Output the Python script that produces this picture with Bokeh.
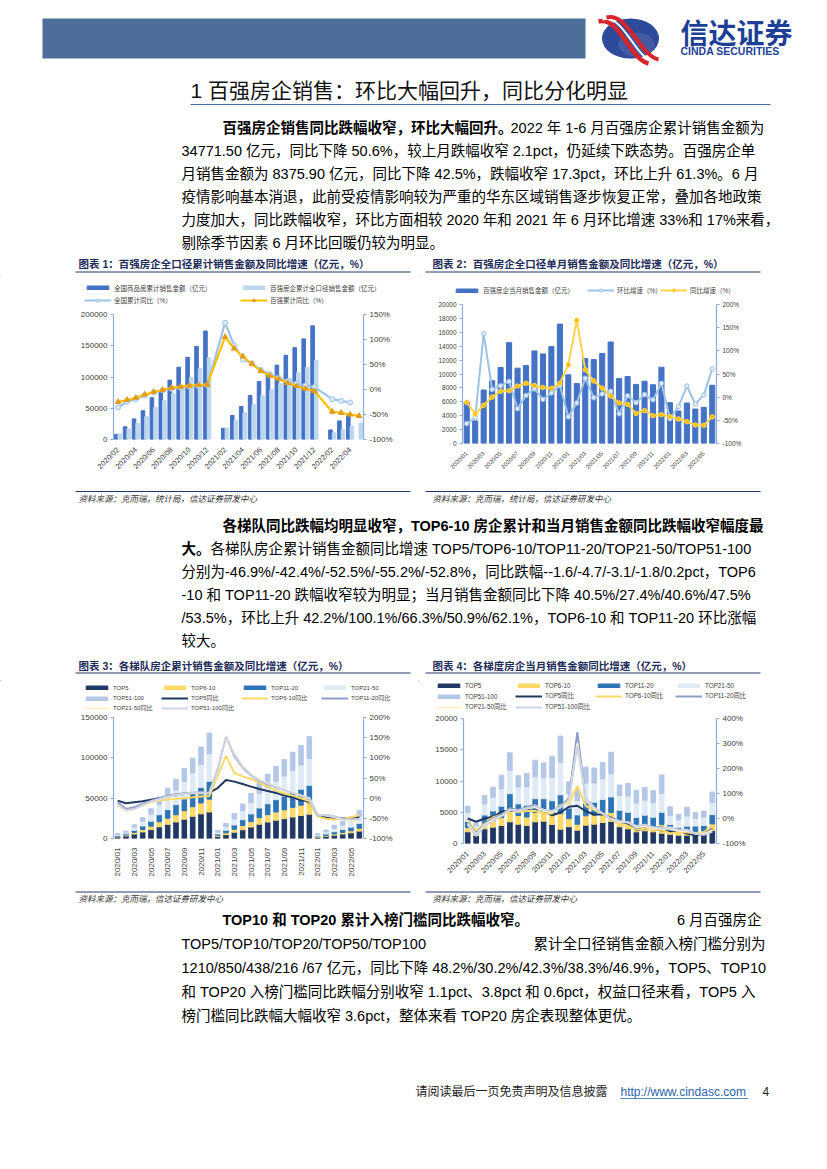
import numpy as np
from bokeh.plotting import figure
from bokeh.models import (ColumnDataSource, Range1d, LinearAxis, FixedTicker,
                          NumeralTickFormatter, PrintfTickFormatter, Legend, LegendItem)
from bokeh.layouts import column, row
from bokeh.transform import dodge
from bokeh.core.properties import value
from bokeh.embed import file_html
from bokeh.resources import INLINE

MIX = "'Liberation Sans', 'Noto Sans CJK SC', sans-serif"

# ---------------- data ----------------
ALL_MONTHS = [f"{y}/{m:02d}" for y in (2020, 2021, 2022) for m in range(1, 13)]
cats1 = ALL_MONTHS[1:29]          # 2020/02 .. 2022/05
cats2 = ALL_MONTHS[0:30]          # 2020/01 .. 2022/06

# chart 1 : cumulative sales (100m yuan) and YoY (%)
c1_national = [8203, 20365, 33000, 46000, 66895, 78000, 95000, 115647, 131500, 149000, 173613,
               None, 17971, 38377, 52951, 70534, 92931, 105000, 119000, 134800, 147000, 161000, 181930,
               None, 15303, 29655, 37934, None]
c1_top100 = [9200, 16900, 25900, 36900, 51400, 62200, 73400, 86800, 99600, 113600, 130800,
             None, 18500, 30700, 42800, 55800, 70400, 79700, 89400, 97900, 106800, 115300, 126300,
             None, 10600, 16400, 21300, 26400]
c1_national_yoy = [-35.9, -24.7, -19.3, -11.6, -5.4, -1.6, 1.6, 3.7, 5.8, 7.2, 8.7,
                   None, 133.4, 88.5, 60.0, 52.4, 38.9, 30.7, 23.5, 16.6, 11.8, 8.0, 4.8,
                   None, -19.3, -22.7, -26.0, None]
c1_top100_yoy = [-25, -21, -16.5, -10, -5, -1, 3.5, 5.6, 7.6, 9, 9.6,
                 None, 105, 82, 66, 51, 37, 27.7, 21, 13, 7, 1.6, -3,
                 None, -44.5, -46.5, -50, -52.7]

# chart 2 : monthly sales of top-100 (100m yuan), MoM and YoY (%)
c2_sales = [5970, 3250, 7690, 9020, 10930, 14510, 10840, 11220, 13320, 12890, 13940, 17180,
            9880, 8640, 12220, 12080, 12940, 14600, 9360, 9640, 8500, 8970, 8450, 10980,
            5870, 4680, 5820, 4960, 5200, 8376]
c2_mom = [-57, -44, 137, 16.7, 24.6, 34, -25, 3.8, 18, -4.8, 8.8, 25.3,
          -42.5, -12.6, 41, -1.2, 7.1, 12.8, -35.9, 3, -11.8, 5.5, -5.8, 30,
          -46.5, -20.3, 24, -14.8, 4.8, 61.3]
c2_yoy = [-11, -36, -17.6, 0.2, 13, 13.8, 24, 30, 25, 21, 19, 30,
          70, 166, 59, 35, 19.6, 2.4, -12.6, -15.5, -35, -29, -40, -37.7,
          -42, -47, -52.7, -60, -60.6, -42.5]

tiers = ["TOP5", "TOP6-10", "TOP11-20", "TOP21-50", "TOP51-100"]

# chart 3 : cumulative sales by tier
c3_top5 = [1870, 3170, 5520, 8130, 11010, 14480, 17570, 20450, 23920, 27490, 30530, 32820,
           2670, 4800, 7730, 10820, 14180, 17700, 20370, 22720, 24590, 26620, 28490, 30140,
           1490, 2820, 4150, 5590, 7060, 9150]
c3_top6_10 = [700, 1120, 2020, 3070, 4320, 6170, 7570, 8920, 10420, 11920, 13470, 15970,
              1300, 2250, 3750, 5200, 6700, 8130, 9180, 10180, 11030, 11980, 12830, 14230,
              550, 1000, 1450, 1950, 2470, 3510]
c3_top11_20 = [950, 1450, 2750, 4300, 6150, 8800, 10650, 12550, 14750, 16850, 19100, 22100,
               1700, 3200, 5250, 7300, 9500, 12000, 13600, 15250, 16700, 18250, 19750, 21700,
               1000, 1800, 2800, 3650, 4550, 6040]
c3_top21_50 = [1450, 2050, 3850, 6050, 8800, 12550, 15250, 18200, 21700, 25050, 28750, 33950,
               2350, 4650, 7850, 10950, 14250, 17950, 20300, 22900, 25200, 27600, 29900, 32900,
               1450, 2650, 4250, 5500, 6800, 8760]
c3_top51_100 = [1000, 1430, 2770, 4380, 6580, 9370, 11170, 13310, 15960, 18330, 21730, 25920,
                1860, 3620, 6160, 8550, 11130, 14580, 16270, 18310, 20340, 22380, 24310, 27290,
                1380, 2280, 3720, 4640, 5650, 7290]
c3_top5_yoy = [-6, -12.6, -10, -7.7, -3.6, -0.3, 3.8, 7, 10.4, 12, 13, 13.7,
               25, 45, 41, 35, 28.6, 22.8, 17.9, 13, 6.3, 2.2, -5.2, -7.7,
               -43, -47, -49, -50.5, -48.5, -46.9]
c3_top6_10_yoy = [-20, -28, -25, -18, -10, -5, -3.6, -2, 0.5, 2, 4, 5.5,
                  55, 105, 62, 54, 47.5, 39, 28, 18.7, 12, 6.3, -0.3, -7,
                  -45, -51.4, -53, -51.4, -47.1, -42.4]
c3_top11_20_yoy = [-10, -26.6, -22.5, -14, -7, -0.3, 6.3, 9.6, 12, 13.7, 14.6, 13,
                   72, 153, 105, 76, 57, 43, 35, 27, 20, 13, 6.3, -0.3,
                   -43, -41.5, -45.6, -51.4, -55.6, -52.5]
c3_top21_50_yoy = [-18, -32, -28, -18, -9, -3, 3, 7, 10, 12, 13, 12,
                   68, 155, 110, 80, 60, 46, 37, 28, 21, 14, 7, 0,
                   -40, -43, -47, -53, -57, -55.2]
c3_top51_100_yoy = [-15, -30, -27, -17, -8, -2, 4, 8, 11, 13, 14, 13,
                    70, 152, 108, 78, 58, 44, 36, 28, 20, 13, 6, -1,
                    -41, -42, -46, -52, -52.6, -52.8]

# chart 4 : monthly sales by tier
c4_top5 = [1870, 1300, 2350, 2610, 2880, 3470, 3090, 2880, 3470, 3570, 3040, 2290,
           2670, 2130, 2930, 3090, 3360, 3520, 2670, 2350, 1870, 2030, 1870, 1650,
           1490, 1330, 1330, 1440, 1470, 2090]
c4_top6_10 = [700, 420, 900, 1050, 1250, 1850, 1400, 1350, 1500, 1500, 1550, 2500,
              1300, 950, 1500, 1450, 1500, 1430, 1050, 1000, 850, 950, 850, 1400,
              550, 450, 450, 500, 520, 1040]
c4_top11_20 = [950, 500, 1300, 1550, 1850, 2650, 1850, 1900, 2200, 2100, 2250, 3000,
               1700, 1500, 2050, 2050, 2200, 2500, 1600, 1650, 1450, 1550, 1500, 1950,
               1000, 800, 1000, 850, 900, 1490]
c4_top21_50 = [1450, 600, 1800, 2200, 2750, 3750, 2700, 2950, 3500, 3350, 3700, 5200,
               2350, 2300, 3200, 3100, 3300, 3700, 2350, 2600, 2300, 2400, 2300, 3000,
               1450, 1200, 1600, 1250, 1300, 1960]
c4_top51_100 = [1000, 430, 1340, 1610, 2200, 2790, 1800, 2140, 2650, 2370, 3400, 4190,
                1860, 1760, 2540, 2390, 2580, 3450, 1690, 2040, 2030, 2040, 1930, 2980,
                1380, 900, 1440, 920, 1010, 1640]
c4_top5_yoy = [0, -13, 0, 7, 27, 33, 29, 37, 43, 31, 13, 24,
               47, 51, 29, 16, 16, 3, -13, -20, -47, -40, -43, -47,
               -53, -50, -60, -67, -60, -40.5]
c4_top6_10_yoy = [-10, -50, -20, 5, 15, 40, 25, 30, 30, 20, 20, 55,
                  60, 130, 50, 35, 20, -5, -25, -30, -45, -40, -45, -45,
                  -60, -55, -55, -60, -55, -27.4]
c4_top11_20_yoy = [-15, -60, -20, 0, 15, 40, 35, 45, 55, 30, 30, 50,
                   80, 345, 70, 40, 20, -5, -15, -15, -40, -30, -35, -35,
                   -45, -50, -50, -60, -65, -40.6]
c4_top21_50_yoy = [-20, -65, -25, -5, 10, 35, 30, 40, 45, 30, 25, 45,
                   70, 300, 75, 40, 20, -3, -15, -15, -35, -30, -40, -40,
                   -40, -50, -50, -60, -62, -47.5]
c4_top51_100_yoy = [-25, -70, -30, -10, 10, 35, 30, 40, 50, 35, 30, 45,
                    75, 290, 80, 45, 20, 0, -10, -15, -30, -25, -35, -40,
                    -35, -45, -45, -60, -65, -53.5]

BAR_COLORS = ["#203864", "#FFD966", "#2E75B6", "#DEEBF7", "#B4C7E7"]
LINE_COLORS = ["#203864", "#FFD966", "#8C9CC8", "#FFF2CC", "#CCD3E3"]
C1_BARS = ["#4472C4", "#BDD7EE"]
NAT_LINE, NAT_MARK = "#9DC3E6", "#DEEBF7"
T100_LINE, T100_MARK = "#FFC000", "#E39B1B"
C2_BAR = "#4472C4"
MOM_LINE, YOY_LINE, YOY_MARK = "#9DC3E6", "#FFD34E", "#FFC000"
AXIS_C = "#8FAADC"
LABEL_C = "#404040"


# ---------------- helpers ----------------
def make_chart(width, height, cats, ymax, yticks, pct_lo, pct_hi, pct_ticks, borders,
               xfs, yfs, orient):
    l, r, t, b = borders
    n = len(cats)
    p = figure(width=width, height=height, x_range=Range1d(-0.5, n - 0.5),
               y_range=Range1d(0, ymax), output_backend="svg", toolbar_location=None,
               min_border_left=l, min_border_right=r, min_border_top=t, min_border_bottom=b)
    p.outline_line_color = None
    p.grid.grid_line_color = None
    p.background_fill_color = "white"
    p.border_fill_color = "white"
    p.extra_y_ranges = {"pct": Range1d(pct_lo, pct_hi)}
    ra = LinearAxis(y_range_name="pct")
    p.add_layout(ra, "right")
    la = p.left[0]
    la.ticker = FixedTicker(ticks=yticks)
    la.formatter = NumeralTickFormatter(format="0")
    ra.ticker = FixedTicker(ticks=pct_ticks)
    ra.formatter = PrintfTickFormatter(format="%d%%")
    for ax in (la, ra):
        ax.axis_line_color = AXIS_C
        ax.axis_line_width = 1.2
        ax.major_tick_line_color = AXIS_C
        ax.major_tick_out = 3
        ax.major_tick_in = 0
        ax.minor_tick_line_color = None
        ax.major_label_text_font_size = yfs
        ax.major_label_text_color = LABEL_C
        ax.major_label_text_font = MIX
        ax.major_label_standoff = 3
    xa = p.below[0]
    xa.axis_line_color = None
    xa.major_tick_line_color = None
    xa.minor_tick_line_color = None
    xa.ticker = FixedTicker(ticks=list(range(0, n, 2)))
    xa.major_label_overrides = {i: cats[i] for i in range(0, n, 2)}
    xa.major_label_orientation = orient
    xa.major_label_text_font_size = xfs
    xa.major_label_text_color = LABEL_C
    xa.major_label_text_font = MIX
    xa.major_label_standoff = 3
    return p


def blank_fig(W, H):
    p = figure(width=W, height=H, x_range=Range1d(0, W), y_range=Range1d(H, 0),
               output_backend="svg", toolbar_location=None, x_axis_location=None,
               y_axis_location=None, min_border=0)
    p.outline_line_color = None
    p.grid.grid_line_color = None
    return p


def legend_fig(W, H, left, top, items, fs):
    """Legend strip above a chart. items: (label, kind, colors, gx, gy) in page px.
    The key glyphs use off-canvas sample renderers styled like the chart's series."""
    lf = blank_fig(W, H)
    off = -1000
    for label, kind, cols, gx, gy in items:
        if kind == "bar":
            rr = [lf.vbar(x=[off], top=[off + 1], bottom=[off], width=0.5,
                          fill_color=cols[0], line_color=cols[0])]
            gh = 5
        else:
            rr = [lf.line(x=[off, off + 1], y=[off, off], line_color=cols[0], line_width=2)]
            if kind == "circle":
                rr.append(lf.scatter(x=[off], y=[off], marker="circle", size=5,
                                     fill_color=cols[1], line_color=cols[0]))
            elif kind == "tri":
                rr.append(lf.scatter(x=[off], y=[off], marker="triangle", size=6,
                                     fill_color=cols[1], line_color=cols[1]))
            gh = 8
        h = 8
        leg = Legend(items=[LegendItem(label=label, renderers=rr)],
                     location=(gx - left, H - (gy - top) - h / 2),
                     orientation="horizontal", glyph_width=27, glyph_height=gh,
                     label_height=h, label_width=10, padding=0, margin=0, spacing=0,
                     label_standoff=3, border_line_color=None, background_fill_alpha=0,
                     label_text_font_size=fs, label_text_font=MIX,
                     label_text_color=LABEL_C)
        lf.add_layout(leg)
    return lf


def solo(f):
    # isolate a figure in its own box so sibling plots do not align their borders
    return column(f)


def pts(vals):
    xs = [i for i, v in enumerate(vals) if v is not None]
    ys = [v for v in vals if v is not None]
    return xs, ys


def txt(p, x, y, s, size="14.5px", color="#000000", style="normal", align="left", font=MIX):
    p.text(x=[x], y=[y], text=[s], text_font=value(font), text_font_size=size,
           text_color=color, text_font_style=style, text_align=align, text_baseline="middle")


def hline(p, x0, x1, y, color="#1F3864", w=1.0):
    p.segment(x0=[x0], y0=[y], x1=[x1], y1=[y], line_color=color, line_width=w)


BODY = "14.5px"
TITLE_C = "#1F2D5A"

# ---------------- chart 1 ----------------
p1 = make_chart(418, 182, cats1, 200000, [0, 50000, 100000, 150000, 200000],
                -100, 150, [-100, -50, 0, 50, 100, 150], (113, 55, 8, 49),
                "7.5px", "8px", np.pi / 4)
src1 = ColumnDataSource(dict(idx=list(range(len(cats1))),
                             nat=np.array(c1_national, dtype=float),
                             top=np.array(c1_top100, dtype=float)))
p1.vbar(x=dodge("idx", -0.2), top="nat", width=0.4, color=C1_BARS[0], source=src1)
p1.vbar(x=dodge("idx", 0.2), top="top", width=0.4, color=C1_BARS[1], source=src1)
x, y = pts(c1_national_yoy)
p1.line(x, y, y_range_name="pct", line_color=NAT_LINE, line_width=2.2)
p1.scatter(x, y, y_range_name="pct", marker="circle", size=5,
           fill_color=NAT_MARK, line_color=NAT_LINE, line_width=1)
x, y = pts(c1_top100_yoy)
p1.line(x, y, y_range_name="pct", line_color=T100_LINE, line_width=2.2)
p1.scatter(x, y, y_range_name="pct", marker="triangle", size=5.5,
           fill_color=T100_MARK, line_color=T100_MARK)
L1 = legend_fig(418, 31, 0, 275, [
    ("全国商品房累计销售金额（亿元）", "bar", [C1_BARS[0]], 84, 288.5),
    ("百强房企累计全口径销售金额（亿元）", "bar", [C1_BARS[1]], 240, 288.5),
    ("全国累计同比（%）", "circle", [NAT_LINE, NAT_MARK], 84, 300.5),
    ("百强累计同比（%）", "tri", [T100_LINE, T100_MARK], 240, 300.5),
], "6.5px")

# ---------------- chart 2 ----------------
p2 = make_chart(409, 190, cats2, 20000, list(range(0, 20001, 2000)),
                -100, 200, [-100, -50, 0, 50, 100, 150, 200], (44, 111, 6, 45),
                "6px", "6.5px", np.pi / 4)
idx2 = list(range(len(cats2)))
p2.vbar(x=idx2, top=c2_sales, width=0.6, color=C2_BAR)
p2.line(idx2, c2_mom, y_range_name="pct", line_color=MOM_LINE, line_width=2)
p2.scatter(idx2, c2_mom, y_range_name="pct", marker="circle", size=4.5,
           fill_color=NAT_MARK, line_color=MOM_LINE)
p2.line(idx2, c2_yoy, y_range_name="pct", line_color=YOY_LINE, line_width=2)
p2.scatter(idx2, c2_yoy, y_range_name="pct", marker="circle", size=4.5,
           fill_color=YOY_MARK, line_color=YOY_LINE)
L2 = legend_fig(409, 23, 418, 275, [
    ("百强房企当月销售金额（亿元）", "bar", [C2_BAR], 453, 291),
    ("环比增速（%）", "circle", [MOM_LINE, NAT_MARK], 587, 291),
    ("同比增速（%）", "circle", [YOY_LINE, YOY_MARK], 660, 291),
], "6.5px")


# ---------------- chart 3 & 4 ----------------
def tier_chart(width, height, ymax, yticks, pct_lo, pct_hi, pct_ticks, borders, xfs, yfs,
               orient, bars, lines):
    p = make_chart(width, height, cats2, ymax, yticks, pct_lo, pct_hi, pct_ticks, borders,
                   xfs, yfs, orient)
    data = dict(idx=list(range(len(cats2))))
    for t, v in zip(tiers, bars):
        data[t] = v
    src = ColumnDataSource(data)
    p.vbar_stack(tiers, x="idx", width=0.55, color=BAR_COLORS, source=src)
    for v, c in zip(lines, LINE_COLORS):
        p.line(data["idx"], v, y_range_name="pct", line_color=c, line_width=2)
    return p


def tier_legend(W, H, left, top, cols_x, rows_y, fs):
    labels = tiers + [t + "同比" for t in tiers]
    kinds = ["bar"] * 5 + ["line"] * 5
    colors = [[c] for c in BAR_COLORS] + [[c] for c in LINE_COLORS]
    items = []
    for i, (lab, k, c) in enumerate(zip(labels, kinds, colors)):
        items.append((lab, k, c, cols_x[i % 4], rows_y[i // 4]))
    return legend_fig(W, H, left, top, items, fs)


p3 = tier_chart(418, 178, 150000, [0, 50000, 100000, 150000], -100, 200,
                [-100, -50, 0, 50, 100, 150, 200], (113, 55, 5, 52), "8px", "8px", np.pi / 2,
                [c3_top5, c3_top6_10, c3_top11_20, c3_top21_50, c3_top51_100],
                [c3_top5_yoy, c3_top6_10_yoy, c3_top11_20_yoy, c3_top21_50_yoy, c3_top51_100_yoy])
L3 = tier_legend(418, 32, 0, 680, [83, 161, 241, 321], [687.5, 698, 708], "6px")
p4 = tier_chart(409, 178, 20000, [0, 5000, 10000, 15000, 20000], -100, 400,
                [-100, 0, 100, 200, 300, 400], (45, 111, 6, 47), "7.5px", "8px", np.pi / 4,
                [c4_top5, c4_top6_10, c4_top11_20, c4_top21_50, c4_top51_100],
                [c4_top5_yoy, c4_top6_10_yoy, c4_top11_20_yoy, c4_top21_50_yoy, c4_top51_100_yoy])
L4 = tier_legend(409, 32, 418, 680, [435, 515, 595, 675], [685, 696, 707], "6.3px")

# ---------------- text sections ----------------
# top section: page y 0 -> 275
ft = blank_fig(827, 275)
ft.quad(left=[42], right=[585], top=[18], bottom=[58], fill_color="#4C6E98", line_color=None)
ft.ellipse(x=[630], y=[38], width=57, height=40, fill_color="#2E4A9A", line_color=None)
ft.ellipse(x=[636], y=[44], width=36, height=24, fill_color="#5068AE", line_color=None,
           fill_alpha=0.6)
ft.bezier(x0=[598], y0=[21], x1=[648], y1=[63], cx0=[620], cy0=[16], cx1=[628], cy1=[58],
          line_color="#D7262B", line_width=4.5)
ft.bezier(x0=[602], y0=[19], x1=[653], y1=[61], cx0=[624], cy0=[14], cx1=[633], cy1=[56],
          line_color="white", line_width=2)
ft.bezier(x0=[606], y0=[17], x1=[658], y1=[59], cx0=[628], cy0=[12], cx1=[638], cy1=[54],
          line_color="#D7262B", line_width=4)
txt(ft, 680, 34, "信达证券", size="28px", color="#1E3F96", style="bold")
txt(ft, 680, 50, "CINDA SECURITIES", size="10.5px", color="#1E3F96", style="bold")
txt(ft, 190, 90, "1 百强房企销售：环比大幅回升，同比分化明显", size="21px", color="#111111")
hline(ft, 190, 770, 104, color="#3F6E9E", w=1.2)

p1_lines = [
    "34771.50 亿元，同比下降 50.6%，较上月跌幅收窄 2.1pct，仍延续下跌态势。百强房企单",
    "月销售金额为 8375.90 亿元，同比下降 42.5%，跌幅收窄 17.3pct，环比上升 61.3%。6 月",
    "疫情影响基本消退，此前受疫情影响较为严重的华东区域销售逐步恢复正常，叠加各地政策",
    "力度加大，同比跌幅收窄，环比方面相较 2020 年和 2021 年 6 月环比增速 33%和 17%来看，",
    "剔除季节因素 6 月环比回暖仍较为明显。",
]
txt(ft, 222, 127, "百强房企销售同比跌幅收窄，环比大幅回升。", size=BODY, style="bold")
txt(ft, 510, 127, "2022 年 1-6 月百强房企累计销售金额为", size=BODY)
for i, s in enumerate(p1_lines):
    txt(ft, 181, 150 + 23 * i, s, size=BODY)

txt(ft, 78, 263, "图表 1：百强房企全口径累计销售金额及同比增速（亿元，%）", size="10.5px",
    color=TITLE_C, style="bold")
txt(ft, 432, 263, "图表 2：百强房企全口径单月销售金额及同比增速（亿元，%）", size="10.5px",
    color=TITLE_C, style="bold")
hline(ft, 75, 410, 271.5)
hline(ft, 425, 760, 271.5)

# middle section: page y 488 -> 680
fm = blank_fig(827, 192)
hline(fm, 75, 410, 3)
hline(fm, 425, 760, 3)
SRC_C = "#333333"
txt(fm, 78, 10, "资料来源：克而瑞，统计局，信达证券研发中心", size="8.5px", color=SRC_C, style="italic")
txt(fm, 432, 10, "资料来源：克而瑞，统计局，信达证券研发中心", size="8.5px", color=SRC_C, style="italic")
txt(fm, 222, 37, "各梯队同比跌幅均明显收窄，TOP6-10 房企累计和当月销售金额同比跌幅收窄幅度最",
    size=BODY, style="bold")
txt(fm, 181, 60, "大。", size=BODY, style="bold")
txt(fm, 210, 60, "各梯队房企累计销售金额同比增速 TOP5/TOP6-10/TOP11-20/TOP21-50/TOP51-100", size=BODY)
p2_lines = [
    "分别为-46.9%/-42.4%/-52.5%/-55.2%/-52.8%，同比跌幅--1.6/-4.7/-3.1/-1.8/0.2pct，TOP6",
    "-10 和 TOP11-20 跌幅收窄较为明显；当月销售金额同比下降 40.5%/27.4%/40.6%/47.5%",
    "/53.5%，环比上升 42.2%/100.1%/66.3%/50.9%/62.1%，TOP6-10 和 TOP11-20 环比涨幅",
    "较大。",
]
for i, s in enumerate(p2_lines):
    txt(fm, 181, 83 + 23 * i, s, size=BODY)
txt(fm, 78, 177, "图表 3：各梯队房企累计销售金额及同比增速（亿元，%）", size="10.5px",
    color=TITLE_C, style="bold")
txt(fm, 432, 177, "图表 4：各梯度房企当月销售金额同比增速（亿元，%）", size="10.5px",
    color=TITLE_C, style="bold")
hline(fm, 75, 410, 184.5)
hline(fm, 425, 760, 184.5)

# bottom section: page y 890 -> 1169
fb = blank_fig(827, 279)
hline(fb, 75, 410, 1.5)
hline(fb, 425, 760, 1.5)
txt(fb, 78, 8.5, "资料来源：克而瑞，信达证券研发中心", size="8.5px", color=SRC_C, style="italic")
txt(fb, 432, 8.5, "资料来源：克而瑞，信达证券研发中心", size="8.5px", color=SRC_C, style="italic")
txt(fb, 222, 29, "TOP10  和  TOP20  累计入榜门槛同比跌幅收窄。", size=BODY, style="bold")
txt(fb, 765, 29, "6  月百强房企", size=BODY, align="right")
txt(fb, 181, 53, "TOP5/TOP10/TOP20/TOP50/TOP100", size=BODY)
txt(fb, 765, 53, "累计全口径销售金额入榜门槛分别为", size=BODY, align="right")
p3_lines = [
    "1210/850/438/216 /67 亿元，同比下降 48.2%/30.2%/42.3%/38.3%/46.9%，TOP5、TOP10",
    "和 TOP20 入榜门槛同比跌幅分别收窄 1.1pct、3.8pct 和 0.6pct，权益口径来看，TOP5 入",
    "榜门槛同比跌幅大幅收窄 3.6pct，整体来看 TOP20 房企表现整体更优。",
]
for i, s in enumerate(p3_lines):
    txt(fb, 181, 77 + 24 * i, s, size=BODY)
txt(fb, 415, 201, "请阅读最后一页免责声明及信息披露", size="12px", color="#222222")
txt(fb, 620, 201, "http://www.cindasc.com", size="12px", color="#2E64B0")
hline(fb, 620, 748, 208, color="#2E64B0", w=0.8)
txt(fb, 762, 201, "4", size="12px", color="#222222")

layout = column(solo(ft),
                row(column(solo(L1), solo(p1)), column(solo(L2), solo(p2))),
                solo(fm),
                row(column(solo(L3), solo(p3)), column(solo(L4), solo(p4))),
                solo(fb))
open("out.html", "w").write(file_html(layout, INLINE))
